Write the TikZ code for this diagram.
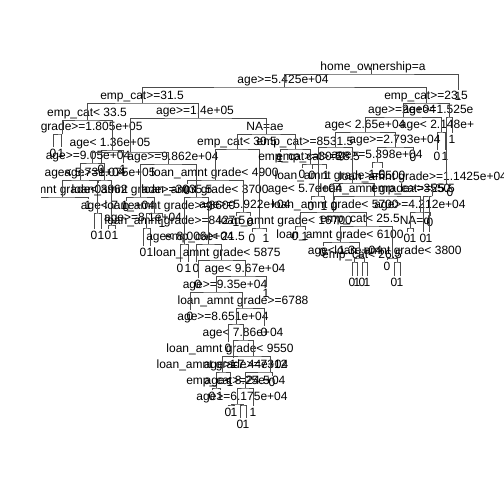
\documentclass[tikz,border=0pt]{standalone}
\usepackage{fontspec}
\setmainfont{Liberation Sans}
\tikzset{
  br/.style={draw=black!70, line width=0.8pt},
  lab/.style={inner sep=0pt, anchor=base, font=\fontsize{12}{14}\selectfont, text=black},
}
\newcommand\tsplit[5]{\coordinate (#1) at (#2,#3); \node[lab] (#1-t) at (#4,#3-3.5) {#5};}
\newcommand\tnolab[3]{\coordinate (#1) at (#2,#3);}
\newcommand\tleaf[4]{\coordinate (#1) at (#2,#3); \node[lab] (#1-t) at (#2,#3+10) {#4};}
\newcommand\tbr[3]{\draw[br] (#2) |- (#1) -| (#3);}
\begin{document}
\begin{tikzpicture}[x=1pt,y=-1pt]
\useasboundingbox (0,0) rectangle (504,504);
\fill[white] (0,0) rectangle (504,504);
\begin{scope}
\clip (41,0) rectangle (504,504);
% ---------------- top
\tsplit{R}{371}{74}{373}{home\_ownership=a}
\coordinate (Rtop) at (371,68);
\draw[br] (R) -- (Rtop);
\tsplit{A}{284}{87}{283}{age>=5.425e+04}
\tleaf{Z}{458}{90}{1}
\tbr{R}{A}{Z}
\tsplit{B}{142}{103}{142}{emp\_cat>=31.5}
\tsplit{C}{426}{103}{426}{emp\_cat>=23.5}
\tbr{A}{B}{C}
% ---------------- left (D)
\tsplit{D}{87}{120}{87}{emp\_cat< 33.5}
\tsplit{E}{198}{118}{195}{age>=1.4e+05}
\tbr{B}{D}{E}
\tsplit{Da}{62}{134}{62}{loan\_amnt grade>=1.805e+05}
\tsplit{Db}{112}{150}{110}{age< 1.36e+05}
\tbr{D}{Da}{Db}
\tleaf{Daa}{53}{147}{0}
\tleaf{Dab}{61}{147}{1}
\tbr{Da}{Daa}{Dab}
\tleaf{Dba}{101}{163}{0}
\tleaf{Dbb}{123}{163}{1}
\tbr{Db}{Dba}{Dbb}
% ---------------- E
\tnolab{Ea}{130}{152}
\tsplit{Etwo}{266}{134}{265}{NA=ae}
\tbr{E}{Ea}{Etwo}
\tsplit{Eaa}{92}{163}{88}{age>=9.05e+04}
\tsplit{Eab}{168}{164}{173}{age>=9.862e+04}
\tbr{Ea}{Eaa}{Eab}
\tsplit{Eaaa}{80}{180}{85}{age< 5.73e+04}
\tsplit{Eaab}{104}{180}{110}{age>=1.075e+05}
\tbr{Eaa}{Eaaa}{Eaab}
\tsplit{Eaaaa}{62}{197}{64}{loan\_amnt grade< 3962}
\tleaf{Eaaab}{98}{183}{0}
\tbr{Eaaa}{Eaaaa}{Eaaab}
\tleaf{La}{34}{199}{0}
\tleaf{Lb}{88}{199}{1}
\tbr{Eaaaa}{La}{Lb}
\tsplit{Eaaba}{97}{213}{118}{age< 7.1e+04}
\tsplit{Eaabb}{111}{225}{143}{age>=8.1e+04}
\tbr{Eaab}{Eaaba}{Eaabb}
\tleaf{Lc}{94}{229}{0}
\tleaf{Ld}{101}{229}{1}
\tbr{Eaaba}{Lc}{Ld}
\tleaf{Le}{108}{229}{0}
\tleaf{Lf}{115}{229}{1}
\tbr{Eaabb}{Le}{Lf}
% Eab subtree
\tsplit{Eaba}{140}{197}{142}{loan\_amnt grade>=3035.5}
\tsplit{Ebb}{196}{197}{205}{loan\_amnt grade< 3700}
\tbr{Eab}{Eaba}{Ebb}
\tleaf{Lg}{126}{201}{0}
\tsplit{Eabab}{154}{213}{170}{loan\_amnt grade>=8600}
\tbr{Eaba}{Lg}{Eabab}
\tsplit{Eababa}{146}{228}{175}{loan\_amnt grade>=8427.5}
\tleaf{Lh}{162}{217}{1}
\tbr{Eabab}{Eababa}{Lh}
\tleaf{Li}{143}{246}{0}
\tleaf{Lj}{150}{246}{1}
\tbr{Eababa}{Li}{Lj}
\tsplit{Ebba}{184}{244}{190}{age< 8.006e+04}
\tsplit{Ebbb}{208}{244}{205}{emp\_cat< 21.5}
\tbr{Ebb}{Ebba}{Ebbb}
\tleaf{Lk}{180}{262}{0}
\tleaf{Ll}{188}{262}{1}
\tbr{Ebba}{Lk}{Ll}
\tleaf{Lm}{196}{262}{0}
% spine
\tsplit{Ta}{221}{260}{217}{loan\_amnt grade< 5875}
\tbr{Ebbb}{Lm}{Ta}
\tleaf{Ln}{198}{278}{0}
\tsplit{Tb}{245}{276}{245}{age< 9.67e+04}
\tbr{Ta}{Ln}{Tb}
\tsplit{Tc}{216}{292}{225}{age>=9.35e+04}
\tleaf{Lo}{266}{287}{1}
\tbr{Tb}{Tc}{Lo}
\tleaf{Lp}{190}{310}{0}
\tsplit{Td}{242}{308}{243}{loan\_amnt grade>=6788}
\tbr{Tc}{Lp}{Td}
\tsplit{Te}{236}{324}{223}{age>=8.651e+04}
\tleaf{Lq}{264}{326}{0}
\tbr{Td}{Te}{Lq}
\tleaf{Ls}{228}{342}{0}
\tsplit{Tf}{243}{340}{243}{age< 7.86e+04}
\tbr{Te}{Ls}{Tf}
\tleaf{Lr}{233}{358}{1}
\tsplit{Tg}{253}{356}{230}{loan\_amnt grade< 9550}
\tbr{Tf}{Lr}{Tg}
\tsplit{Tha}{222}{372}{222}{loan\_amnt grade>=7312}
\tsplit{Thb}{270}{372}{246}{age>=7.44e+04}
\tbr{Tg}{Tha}{Thb}
\tsplit{Tia}{216}{388}{228}{emp\_cat>=24.5}
\tleaf{Lt}{230}{376}{1}
\tbr{Tha}{Tia}{Lt}
\tleaf{Lu}{212}{390}{0}
\tleaf{Lv}{220}{390}{1}
\tbr{Tia}{Lu}{Lv}
\tsplit{Tib}{245}{388}{245}{age< 8.25e+04}
\tleaf{Lw}{272}{376}{0}
\tbr{Thb}{Tib}{Lw}
\tsplit{Tj}{237}{404}{242}{age>=6.175e+04}
\tleaf{Lx}{253}{406}{1}
\tbr{Tib}{Tj}{Lx}
\tnolab{Tka}{231}{405}
\tnolab{Tkb}{243}{405}
\tbr{Tj}{Tka}{Tkb}
\tleaf{Ly}{228}{406}{0}
\tleaf{Lz}{234}{406}{1}
\tbr{Tka}{Ly}{Lz}
\tleaf{Lza}{240}{418}{0}
\tleaf{Lzb}{246}{418}{1}
\tbr{Tkb}{Lza}{Lzb}
% ---------------- E2 (NA=ae)
\tsplit{Etl}{237}{149}{237}{emp\_cat< 30.5}
\tsplit{Etr}{295}{149}{305}{emp\_cat>=8531.5}
\tbr{Etwo}{Etl}{Etr}
\tleaf{Ma}{187}{184}{0}
\tsplit{Etll}{215}{180}{215}{loan\_amnt grade< 4900}
\tsplit{Etlr}{259}{228}{285}{loan\_amnt grade< 16700}
\tbr{Etl}{Etll}{Etlr}
\tsplit{Etllb}{243}{212}{245}{age>=5.922e+04}
\tbr{Etll}{Ma}{Etllb}
\tleaf{Mb}{236}{216}{1}
\tleaf{Mc}{250}{216}{0}
\tbr{Etllb}{Mb}{Mc}
\tleaf{Md}{252}{232}{0}
\tleaf{Me}{266}{232}{1}
\tbr{Etlr}{Md}{Me}
\tleaf{Mf}{280}{152}{1}
\tsplit{Etrb}{310}{164}{300}{emp\_cat>=30.5}
\tbr{Etr}{Mf}{Etrb}
\tleaf{Mg}{302}{168}{0}
\tsplit{Mh}{318}{196}{305}{age< 5.7e+04}
\tbr{Etrb}{Mg}{Mh}
\tleaf{Mi}{311}{200}{0}
\tleaf{Mj}{324}{200}{1}
\tbr{Mh}{Mi}{Mj}
% ---------------- C subtree
\tsplit{CL}{403}{117}{402}{age>=2e+04}
\tsplit{CR}{449}{117}{438}{age>=1.525e}
\tbr{C}{CL}{CR}
\tsplit{CLL}{365}{132}{365}{age< 2.65e+04}
\tsplit{CLR}{441}{132}{437}{age< 2.148e+}
\tbr{CL}{CLL}{CLR}
\tleaf{Na}{437}{150}{0}
\tleaf{Nb}{445}{150}{1}
\tbr{CLR}{Na}{Nb}
\tsplit{CRa}{446}{184}{423}{loan\_amnt grade>=1.1425e+04}
\tleaf{Nc}{452}{133}{1}
\tbr{CR}{CRa}{Nc}
\tnolab{CLLa}{335}{147}
\tsplit{CLLb}{395}{147}{395}{age>=2.793e+04}
\tbr{CLL}{CLLa}{CLLb}
\tsplit{CLLba}{377}{162}{377}{age>=5.398e+04}
\tleaf{Nd}{413}{151}{0}
\tbr{CLLb}{CLLba}{Nd}
\tleaf{Ne}{372}{168}{1}
\tleaf{Nf}{382}{168}{0}
\tbr{CLLba}{Ne}{Nf}
\tsplit{CLLaa}{318}{164}{318}{emp\_cat>=28.5}
\tsplit{CLLab}{352}{183}{340}{loan\_amnt grade>=5500}
\tbr{CLLa}{CLLaa}{CLLab}
\tleaf{Ng}{312}{169}{0}
\tleaf{Nh}{326}{169}{1}
\tbr{CLLaa}{Ng}{Nh}
\tsplit{Xa}{333}{212}{335}{loan\_amnt grade< 5700}
\tsplit{Xb}{374}{196}{385}{loan\_amnt grade>=3550}
\tbr{CLLab}{Xa}{Xb}
\tnolab{Xaa}{300}{226}
\tsplit{Xab}{366}{226}{360}{emp\_cat< 25.5}
\tbr{Xa}{Xaa}{Xab}
\tleaf{Ni}{295}{230}{0}
\tleaf{Nj}{305}{230}{1}
\tbr{Xaa}{Ni}{Nj}
\tsplit{Xaba}{340}{242}{340}{loan\_amnt grade< 6100}
\tsplit{Xabb}{392}{258}{398}{loan\_amnt grade< 3800}
\tbr{Xab}{Xaba}{Xabb}
\tleaf{Nk}{323}{246}{0}
\tsplit{P}{359}{258}{345}{age< 1.3e+04}
\tbr{Xaba}{Nk}{P}
\tnolab{Pa}{354}{262}
\tsplit{Pb}{364}{262}{362}{emp\_cat< 26.5}
\tbr{P}{Pa}{Pb}
\tleaf{Nl}{352}{276}{0}
\tleaf{Nm}{357}{276}{1}
\tbr{Pa}{Nl}{Nm}
\tleaf{Nn}{362}{276}{0}
\tleaf{No}{367}{276}{1}
\tbr{Pb}{Nn}{No}
\tleaf{Np}{387}{260}{0}
\tnolab{Q}{397}{262}
\tbr{Xabb}{Np}{Q}
\tleaf{Nq}{394}{276}{0}
\tleaf{Nr}{400}{276}{1}
\tbr{Q}{Nq}{Nr}
\tleaf{Ns}{334}{200}{0}
\tsplit{Xba}{420}{212}{420}{age>=4.212e+04}
\tbr{Xb}{Ns}{Xba}
\tsplit{Xbaa}{410}{228}{415}{NA=d}
\tleaf{Nt}{430}{216}{0}
\tbr{Xba}{Xbaa}{Nt}
\tleaf{Nu}{407}{232}{0}
\tleaf{Nv}{413}{232}{1}
\tbr{Xbaa}{Nu}{Nv}
\tsplit{CRaa}{432}{196}{413}{emp\_cat>=25.5}
\tleaf{Nw}{450}{186}{0}
\tbr{CRa}{CRaa}{Nw}
\tleaf{Nx}{423}{232}{0}
\tleaf{Ny}{429}{232}{1}
\tbr{CRaa}{Nx}{Ny}
\end{scope}
\end{tikzpicture}
\end{document}
